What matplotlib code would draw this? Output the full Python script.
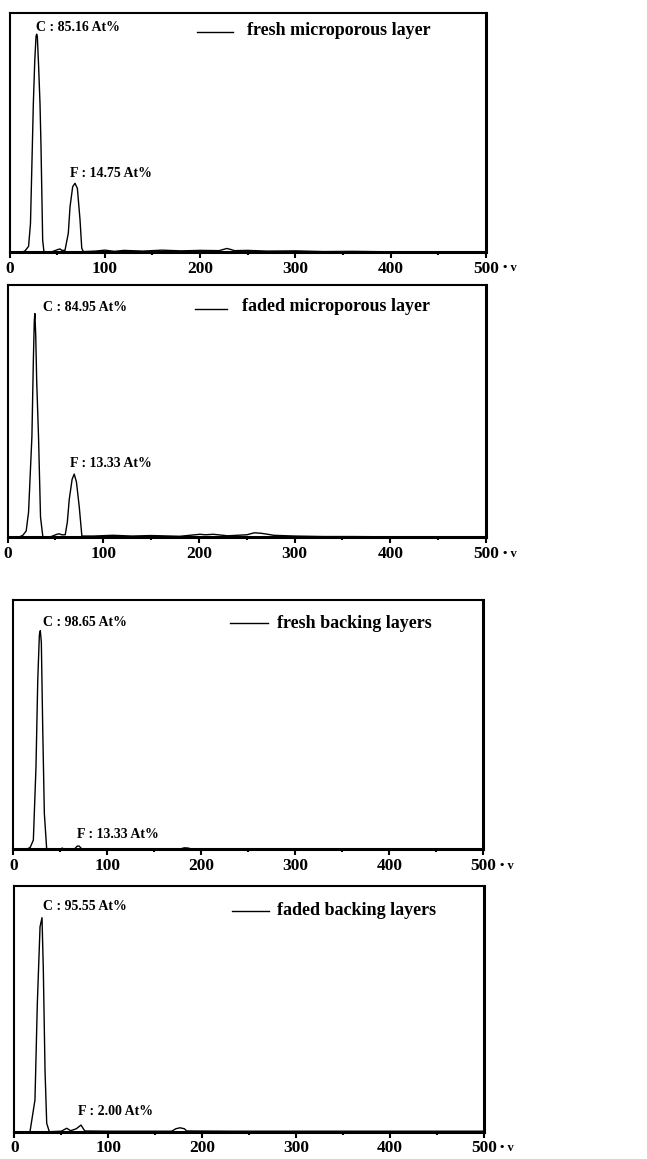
import matplotlib
matplotlib.use("Agg")
import matplotlib.pyplot as plt

plt.rcParams['font.family'] = ['Liberation Serif', 'DejaVu Serif']
plt.rcParams['font.weight'] = 'bold'

# EDS spectra, energy channel (x) vs. relative counts (y, % of panel height)
# fresh microporous layer
x_fresh_mpl = [0, 12.8, 16.3, 20, 22, 24, 25, 26.5, 27.8, 28.5, 29.2, 30.5, 32, 33, 34.8, 36.2,
               45, 51, 53, 55, 58.2, 61.7, 63.5, 66.3, 68.7, 71.2, 74, 75.8, 77.5,
               90, 100, 110, 120, 140, 160, 180, 200, 220, 228, 232, 236, 250, 270, 300, 330, 360, 400, 500]
y_fresh_mpl = [0, 0, 0.6, 2.5, 12, 45, 62, 80, 90, 91, 90, 78, 62, 45, 5, 0,
               0.3, 1.2, 1.4, 0.8, 0.8, 8, 19, 27.4, 28.8, 26.7, 13.5, 1.7, 0.3,
               0.5, 0.9, 0.4, 0.8, 0.5, 0.9, 0.6, 0.8, 0.7, 1.6, 1.2, 0.7, 0.8, 0.5, 0.6, 0.3, 0.4, 0.2, 0.2]

# faded microporous layer
x_faded_mpl = [0, 11.5, 16, 19.5, 22, 25.5, 27, 28, 28.6, 29.5, 30.5, 32.4, 34.5, 37,
               45, 51.6, 54, 56.8, 60.3, 62.5, 64.5, 67.5, 69.7, 72, 75, 77.7,
               90, 110, 130, 150, 180, 201, 207, 215, 230, 250, 258, 265, 272, 278, 300, 330, 360, 400, 500]
y_faded_mpl = [0, 0, 0.8, 2.5, 10, 40, 70, 86, 88.8, 80, 62, 40, 8, 0,
               0.2, 1.2, 1.4, 1.0, 1.0, 6, 15, 23, 25.1, 22, 12, 0.5,
               0.5, 0.8, 0.5, 0.7, 0.4, 1.2, 1.0, 1.2, 0.6, 1.0, 1.8, 1.6, 1.2, 0.8, 0.5, 0.3, 0.3, 0.2, 0.2]

# fresh backing layers
x_fresh_bl = [0, 14.2, 18, 21.3, 24.1, 26, 27.7, 28.7, 29.8, 31.3, 33, 35.5,
              50, 52, 54, 65.6, 68, 70, 72.8, 100, 178, 182, 186, 190, 300, 500]
y_fresh_bl = [0, 0, 0.8, 3.7, 33, 68, 86, 87.7, 83, 48, 14.4, 0,
              0, 0.5, 0, 0.3, 1.3, 1.3, 0.2, 0.1, 0.2, 0.6, 0.5, 0.1, 0, 0]

# faded backing layers
x_faded_bl = [0, 16.7, 22, 24.5, 27.4, 29.5, 30.9, 32.7, 34.5, 37.3,
              50, 55.8, 60, 66, 71, 75, 100, 167.5, 172, 176.4, 181, 183.5, 230, 500]
y_faded_bl = [0, 0, 12.9, 52, 83.4, 87.1, 65.8, 25, 3.4, 0,
              0.2, 1.4, 0.4, 1.2, 2.7, 0.3, 0.2, 0.2, 1.2, 1.6, 1.2, 0.3, 0.2, 0.2]

legend_names = ['fresh microporous layer', 'faded microporous layer',
                'fresh backing layers', 'faded backing layers']
c_labels = ['C : 85.16 At%', 'C : 84.95 At%', 'C : 98.65 At%', 'C : 95.55 At%']
f_labels = ['F : 14.75 At%', 'F : 13.33 At%', 'F : 13.33 At%', 'F : 2.00 At%']
xticks = [0, 100, 200, 300, 400, 500]

spectra = [(x_fresh_mpl, y_fresh_mpl), (x_faded_mpl, y_faded_mpl),
           (x_fresh_bl, y_fresh_bl), (x_faded_bl, y_faded_bl)]

# axes rectangles (figure fraction) and text placements (axes fraction)
rects = [[0.0147, 0.7823, 0.7365, 0.2068],
         [0.0116, 0.5364, 0.7396, 0.2174],
         [0.0206, 0.2672, 0.7264, 0.2151],
         [0.0221, 0.02355, 0.7260, 0.2120]]
c_pos = [(0.055, 0.939), (0.075, 0.913), (0.064, 0.909), (0.062, 0.916)]
f_pos = [(0.127, 0.327), (0.131, 0.291), (0.135, 0.060), (0.136, 0.081)]
leg_line = [(0.393, 0.469, 0.920), (0.392, 0.459, 0.906), (0.461, 0.542, 0.906), (0.463, 0.543, 0.898)]
leg_text = [(0.498, 0.927), (0.489, 0.915), (0.560, 0.904), (0.559, 0.900)]

fig = plt.figure(figsize=(6.47, 11.59), dpi=100)

for i in range(4):
    ax = fig.add_axes(rects[i])
    x, y = spectra[i]
    ax.plot(x, y, color='black', lw=1.0)
    ax.set_xlim(0, 500)
    ax.set_ylim(0, 100)
    ax.set_yticks([])
    ax.set_xticks(xticks)
    ax.set_xticks([50, 150, 250, 350, 450], minor=True)
    ax.set_xticklabels([str(t) for t in xticks], fontsize=12.5, fontweight='bold')
    ax.tick_params(axis='x', which='major', direction='out', length=4, width=1.5, pad=2)
    ax.tick_params(axis='x', which='minor', direction='out', length=2.5, width=1.5)
    for s in ['top', 'left']:
        ax.spines[s].set_linewidth(1.5)
    ax.spines['right'].set_linewidth(2.2)
    ax.spines['bottom'].set_linewidth(2.2)

    ax.text(c_pos[i][0], c_pos[i][1], c_labels[i], transform=ax.transAxes,
            fontsize=10, fontweight='bold', va='center', ha='left')
    ax.text(f_pos[i][0], f_pos[i][1], f_labels[i], transform=ax.transAxes,
            fontsize=10, fontweight='bold', va='center', ha='left')
    x0, x1, yl = leg_line[i]
    ax.plot([x0, x1], [yl, yl], transform=ax.transAxes, color='black', lw=1.0)
    ax.text(leg_text[i][0], leg_text[i][1], legend_names[i], transform=ax.transAxes,
            fontsize=13, fontweight='bold', va='center', ha='left')
    ax.text(1.035, -0.065, '\u2022 v', transform=ax.transAxes,
            fontsize=9, fontweight='bold', va='center', ha='left')

fig.savefig('out.png', dpi=100)
